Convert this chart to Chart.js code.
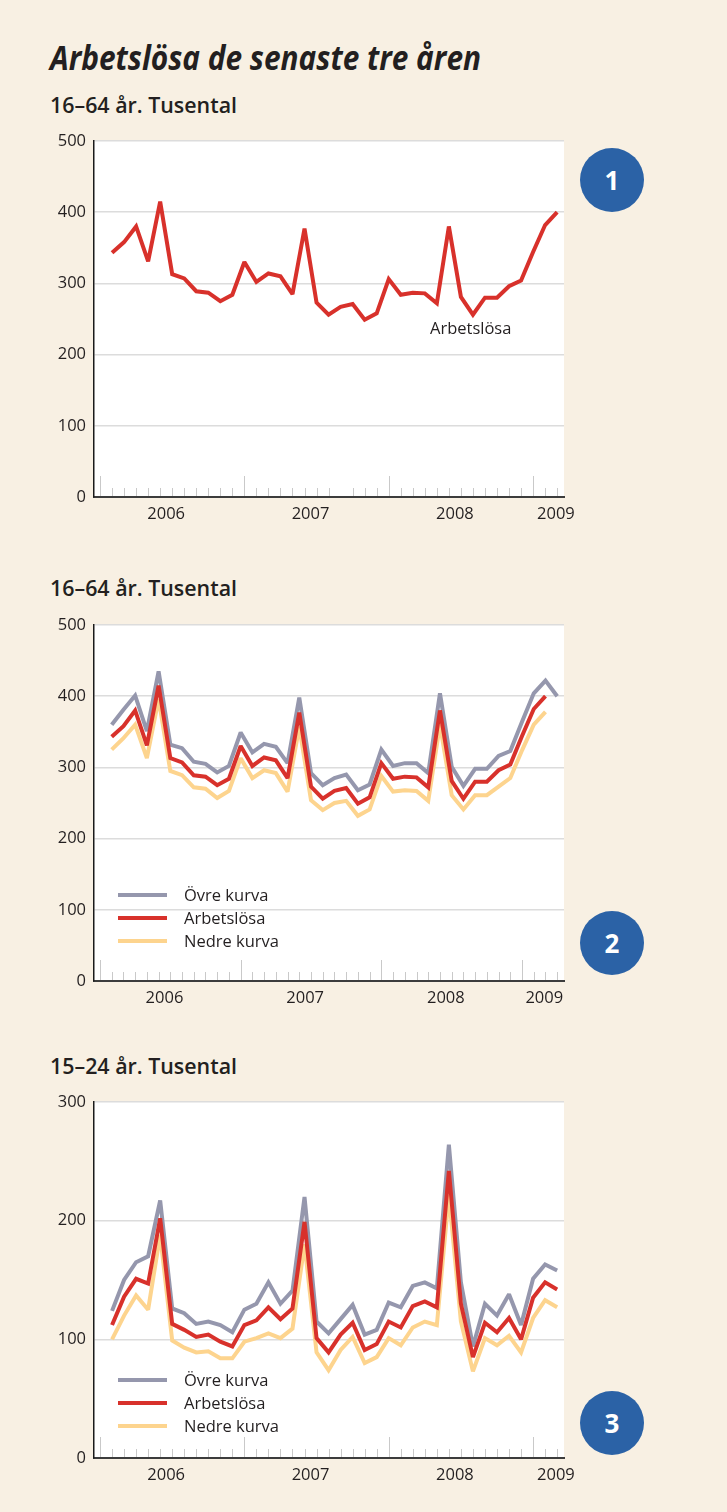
<!DOCTYPE html>
<html><head><meta charset="utf-8">
<script src="https://cdn.jsdelivr.net/npm/chart.js@4.4.0/dist/chart.umd.min.js"></script>
<style>
html,body{margin:0;padding:0;}
body{width:727px;height:1512px;background:#f8f0e3;position:relative;overflow:hidden;font-family:"Open Sans",sans-serif;color:#231f20;}
.abs{position:absolute;}
canvas{position:absolute;left:0;}
.title{left:50px;top:40px;font-size:34px;font-weight:700;font-style:italic;line-height:1;white-space:nowrap;transform-origin:0 0;}
.sub{left:50px;font-size:21px;font-weight:600;line-height:1;white-space:nowrap;transform-origin:0 0;}
.badge{width:64px;height:64px;border-radius:50%;background:#2b62a6;color:#fff;font-weight:700;font-size:26px;display:flex;align-items:center;justify-content:center;left:580px;}
.legend{left:118px;font-size:16.5px;}
.legend .row{display:flex;align-items:center;height:23px;}
.legend .sw{width:49px;height:4px;margin-right:17px;}
.note{font-size:16.5px;white-space:nowrap;}
</style></head>
<body>
<div class="abs title" data-w="431">Arbetslösa de senaste tre åren</div>
<div class="abs sub" style="top:95px" data-w="187">16–64 år. Tusental</div>
<div class="abs sub" style="top:578px" data-w="187">16–64 år. Tusental</div>
<div class="abs sub" style="top:1056px" data-w="187">15–24 år. Tusental</div>

<canvas id="c1" width="727" height="420" style="top:120px"></canvas>
<canvas id="c2" width="727" height="430" style="top:600px"></canvas>
<canvas id="c3" width="727" height="430" style="top:1080px"></canvas>

<div class="abs note" style="left:430px;top:316px">Arbetslösa</div>
<div class="abs legend" id="leg2" style="top:883px"></div>
<div class="abs legend" id="leg3" style="top:1368px"></div>

<div class="abs badge" style="top:148px">1</div>
<div class="abs badge" style="top:911px">2</div>
<div class="abs badge" style="top:1391px">3</div>

<script>
// ---------- data ----------
const yearLabels = ['2006', '2007', '2008', '2009'];
const yearTickPos = [5.5, 17.5, 29.5, 37.9];      // month index (Jan 2006 = 0)
const firstMonth = 1;                              // series start: Feb 2006
const seriesLabels = ['Övre kurva', 'Arbetslösa', 'Nedre kurva'];

// 16–64 år, tusental
const arbetslosa1664 = [343, 358, 380, 331, 415, 313, 307, 289, 287, 275, 284, 330,
                        302, 314, 310, 285, 377, 273, 256, 267, 271, 249, 258, 306,
                        284, 287, 286, 272, 380, 281, 256, 280, 280, 296, 304, 344,
                        382, 400];
const ovre1664 = [360, 381, 401, 351, 435, 332, 327, 308, 305, 293, 302, 349,
                  321, 333, 329, 306, 398, 292, 275, 285, 290, 268, 276, 325,
                  302, 306, 306, 292, 404, 301, 274, 298, 298, 316, 323, 364,
                  404, 422, 400];
const nedre1664 = [325, 341, 360, 313, 396, 295, 289, 272, 270, 257, 267, 313,
                   285, 296, 292, 266, 357, 254, 240, 250, 253, 232, 241, 288,
                   266, 268, 267, 253, 360, 261, 241, 261, 261, 273, 285, 324,
                   360, 378];

// 15–24 år, tusental
const ovre1524 = [124, 150, 165, 170, 217, 126, 122, 113, 115, 112, 106, 125,
                  130, 148, 130, 141, 220, 115, 105, 117, 129, 104, 108, 131,
                  127, 145, 148, 143, 264, 148, 94, 130, 120, 138, 112, 151,
                  163, 158];
const arbetslosa1524 = [112, 136, 151, 147, 202, 113, 108, 102, 104, 98, 94, 112,
                        116, 127, 117, 126, 199, 101, 89, 104, 114, 91, 96, 115,
                        110, 128, 132, 127, 242, 130, 85, 114, 106, 118, 100, 135,
                        148, 142];
const nedre1524 = [100, 120, 137, 125, 188, 99, 93, 89, 90, 84, 84, 98,
                   101, 105, 101, 109, 180, 89, 74, 91, 102, 80, 85, 101,
                   95, 110, 115, 112, 222, 115, 73, 101, 95, 103, 89, 118,
                   133, 127];

const yTicks1664 = [0, 100, 200, 300, 400, 500];
const yTicks1524 = [0, 100, 200, 300];

// ---------- styling ----------
const COL = { ovre: '#9597ad', arb: '#d8312b', nedre: '#fdd48e' };
const TXT = '#231f20';
const FONT = 'Open Sans';

const bgPlugin = {
  id: 'plotBg',
  beforeDraw(chart) {
    const { ctx, chartArea: a } = chart;
    ctx.save();
    ctx.fillStyle = '#ffffff';
    ctx.fillRect(a.left, a.top, a.right - a.left, a.bottom - a.top);
    ctx.restore();
  },
  beforeDatasetsDraw(chart) { chart.ctx.miterLimit = 2.2; },
  afterDatasetsDraw(chart) { chart.ctx.miterLimit = 10; }
};

function monthTicks(lastTick, skip) {
  return {
    id: 'monthTicks',
    beforeDatasetsDraw(chart) {
      const { ctx, chartArea: a, scales: { x } } = chart;
      ctx.save();
      ctx.strokeStyle = '#c9c9c9';
      ctx.lineWidth = 1;
      for (let k = 0; k <= lastTick; k++) {
        if (skip.includes(k)) continue;
        const px = Math.round(x.getPixelForValue(k)) + 0.5;
        const h = (k % 12 === 0) ? 20 : 8;
        ctx.beginPath();
        ctx.moveTo(px, a.bottom - 1);
        ctx.lineTo(px, a.bottom - 1 - h);
        ctx.stroke();
      }
      ctx.restore();
    }
  };
}

function buildChart(id, cfg) {
  const datasets = cfg.series.map(s => ({
    label: s.label,
    data: s.values.map((v, i) => ({ x: firstMonth + i, y: v })),
    borderColor: s.color,
    backgroundColor: s.color,
    borderWidth: 4,
    pointRadius: 0,
    tension: 0,
    borderJoinStyle: 'miter',
    borderCapStyle: 'butt',
    fill: false,
    order: s.order
  }));
  return new Chart(document.getElementById(id), {
    type: 'line',
    data: { datasets },
    options: {
      responsive: false,
      animation: false,
      devicePixelRatio: 1,
      layout: { padding: { top: cfg.padTop, right: 163, left: 0, bottom: 0 } },
      plugins: { legend: { display: false }, tooltip: { enabled: false } },
      scales: {
        x: {
          type: 'linear', min: cfg.xMin, max: cfg.xMax,
          afterBuildTicks: s => { s.ticks = yearTickPos.map(v => ({ value: v })); },
          afterFit: s => { s.height = cfg.axisH; },
          grid: { display: false, drawTicks: false },
          border: { display: true, color: '#3c3c3c', width: 2 },
          ticks: {
            autoSkip: false, maxRotation: 0, minRotation: 0, padding: 7,
            color: TXT, font: { family: FONT, size: 16.5 },
            callback: v => { const i = yearTickPos.indexOf(v); return i >= 0 ? yearLabels[i] : ''; }
          }
        },
        y: {
          min: cfg.yTicks[0], max: cfg.yTicks[cfg.yTicks.length - 1],
          afterBuildTicks: s => { s.ticks = cfg.yTicks.map(v => ({ value: v })); },
          afterFit: s => { s.width = 94; },
          grid: { color: '#dcdcdc', lineWidth: 1.5, drawTicks: false },
          border: { display: true, color: '#1a1a1a', width: 1.5 },
          ticks: { padding: 8, color: TXT, font: { family: FONT, size: 16.5 } }
        }
      }
    },
    plugins: [bgPlugin, monthTicks(cfg.lastTick, cfg.skipTicks)]
  });
}

const three = (o, a, n) => [
  { label: seriesLabels[0], values: o, color: COL.ovre, order: 2 },
  { label: seriesLabels[1], values: a, color: COL.arb, order: 0 },
  { label: seriesLabels[2], values: n, color: COL.nedre, order: 1 }
];

buildChart('c1', {
  series: [{ label: seriesLabels[1], values: arbetslosa1664, color: COL.arb, order: 0 }],
  yTicks: yTicks1664, xMin: -0.5, xMax: 38.57, padTop: 21, axisH: 43, lastTick: 38, skipTicks: [20]
});
buildChart('c2', {
  series: three(ovre1664, arbetslosa1664, nedre1664),
  yTicks: yTicks1664, xMin: -0.51, xMax: 39.58, padTop: 25, axisH: 49, lastTick: 39, skipTicks: []
});
buildChart('c3', {
  series: three(ovre1524, arbetslosa1524, nedre1524),
  yTicks: yTicks1524, xMin: -0.5, xMax: 38.57, padTop: 22, axisH: 52, lastTick: 38, skipTicks: []
});

// legends (HTML text)
function buildLegend(elId) {
  const el = document.getElementById(elId);
  [COL.ovre, COL.arb, COL.nedre].forEach((c, i) => {
    const row = document.createElement('div');
    row.className = 'row';
    const sw = document.createElement('span');
    sw.className = 'sw';
    sw.style.background = c;
    const t = document.createElement('span');
    t.textContent = seriesLabels[i];
    row.appendChild(sw); row.appendChild(t);
    el.appendChild(row);
  });
}
buildLegend('leg2');
buildLegend('leg3');

// fit condensed headings to the reference widths
function fit() {
  document.querySelectorAll('[data-w]').forEach(el => {
    el.style.transform = 'none';
    const w = el.getBoundingClientRect().width;
    el.style.transform = 'scaleX(' + (parseFloat(el.dataset.w) / w) + ')';
  });
}
fit();
if (document.fonts && document.fonts.ready) document.fonts.ready.then(fit);
</script>
</body></html>
